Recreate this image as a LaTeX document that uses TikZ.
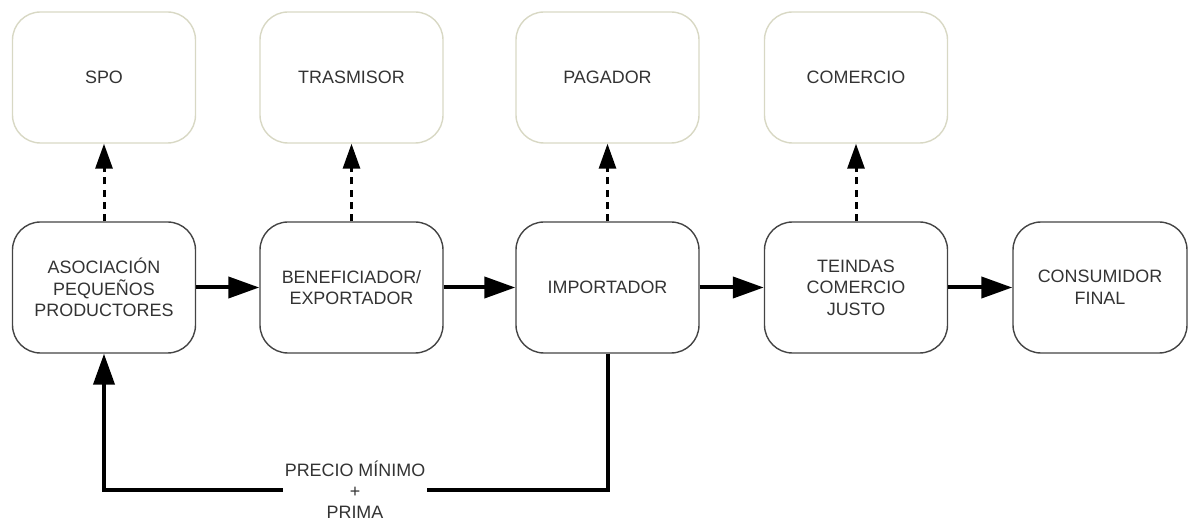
\documentclass[tikz,border=0pt]{standalone}
\usepackage{fontspec}
\setmainfont{Liberation Sans}
\usetikzlibrary{arrows.meta}
\definecolor{txtgray}{HTML}{333333}
\definecolor{boxgray}{HTML}{444444}
\definecolor{rolegray}{HTML}{D8D8C4}

\begin{document}
\begin{tikzpicture}[
  actor/.style={draw=boxgray, line width=0.8pt, rounded corners=0.56cm,
    minimum width=3.66cm, minimum height=2.62cm, align=center,
    text=txtgray, font=\fontsize{10.2}{12.3}\selectfont},
  role/.style={actor, draw=rolegray},
  flow/.style={line width=0.08cm, -{Triangle[length=0.62cm,width=0.42cm]}},
  dashflow/.style={line width=0.06cm, dash pattern=on 4pt off 3pt,
    -{Triangle[length=0.5cm,width=0.34cm]}}
]
\useasboundingbox (0,0) rectangle (23.78,-10.46);
% cadena
\node[actor] (aso) at (2.08,-5.75) {ASOCIACIÓN\\PEQUEÑOS\\PRODUCTORES};
\node[actor] (ben) at (7.03,-5.75) {BENEFICIADOR/\\EXPORTADOR};
\node[actor] (imp) at (12.15,-5.75) {IMPORTADOR};
\node[actor] (tie) at (17.12,-5.75) {TEINDAS\\COMERCIO\\JUSTO};
\node[actor, minimum width=3.48cm] (con) at (22.0,-5.75) {CONSUMIDOR\\FINAL};
% funciones
\node[role] (spo) at (2.08,-1.55) {SPO};
\node[role] (tra) at (7.03,-1.55) {TRASMISOR};
\node[role] (pag) at (12.15,-1.55) {PAGADOR};
\node[role] (com) at (17.12,-1.55) {COMERCIO};
\node[text=txtgray, fill=white, inner sep=1pt, align=center,
  font=\fontsize{10.2}{12}\selectfont] (pre) at (7.1,-9.8)
  {PRECIO MÍNIMO\\+\\PRIMA};

\draw[flow] (aso) -- (ben);
\draw[flow] (ben) -- (imp);
\draw[flow] (imp) -- (tie);
\draw[flow] (tie) -- (con);

\draw[dashflow] (aso) -- (spo);
\draw[dashflow] (ben) -- (tra);
\draw[dashflow] (imp) -- (pag);
\draw[dashflow] (tie) -- (com);

\draw[line width=0.08cm] (imp.south) |- (pre.east);
\draw[flow] (pre.west) -| (aso.south);
\end{tikzpicture}
\end{document}
